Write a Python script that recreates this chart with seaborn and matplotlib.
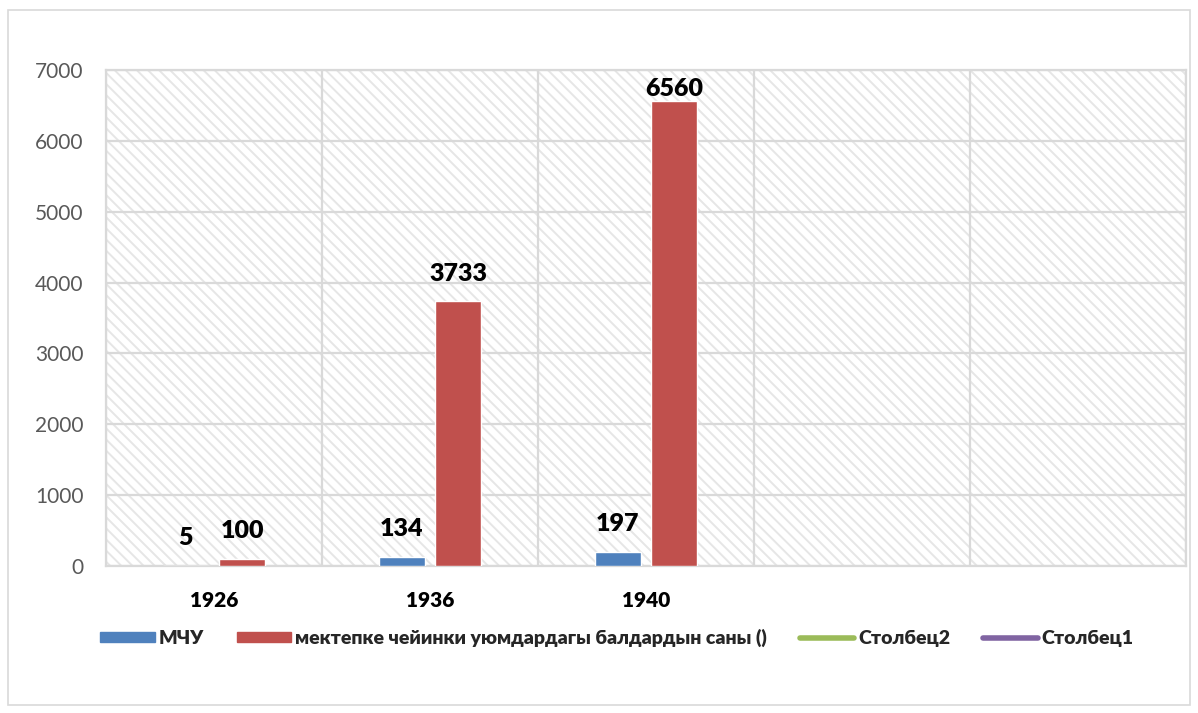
import numpy as np, pandas as pd
import seaborn as sns, matplotlib.pyplot as plt
from matplotlib.patches import Rectangle
from matplotlib.lines import Line2D
from matplotlib.patches import Patch

years = ['1926', '1936', '1940']
mchu = [5, 134, 197]
kids = [100, 3733, 6560]
s1_name = 'МЧУ'
s2_name = 'мектепке чейинки уюмдардагы балдардын саны ()'
extra_names = ['Столбец2', 'Столбец1']
n_slots = 5
yticks = list(range(0, 7001, 1000))

blue, red, green, purple = '#4F81BD', '#C0504D', '#9BBB59', '#8064A2'
grid_c = '#d9d9d9'

sns.set_style('white')
plt.rcParams['font.family'] = ['Lato', 'DejaVu Sans']
plt.rcParams['hatch.linewidth'] = 1.4

df = pd.DataFrame({'year': years * 2,
                   'value': mchu + kids,
                   'series': [s1_name] * 3 + [s2_name] * 3})

fig = plt.figure(figsize=(11.98, 7.13), dpi=100)
ax = fig.add_axes([106/1198, 1-566/713, 1080/1198, 496/713])

# hatched plot area
ax.add_patch(Rectangle((0, 0), 1, 1, transform=ax.transAxes, facecolor='white',
                       edgecolor='#e6e6e6', hatch='\\\\\\', lw=0, zorder=0))

sns.barplot(data=df, x='year', y='value', hue='series', palette=[blue, red],
            saturation=1, width=0.52, gap=0.18, errorbar=None, legend=False,
            ax=ax, zorder=3)

for i, cont in enumerate(ax.containers):
    anns = ax.bar_label(cont, padding=12, fontsize=18, fontweight='heavy', color='black')
    for a, v in zip(anns, [mchu, kids][i]):
        if v == 6560:
            a.xyann = (0, 1)

ax.set_xlim(-0.5, n_slots - 0.5)
ax.set_ylim(0, 7000)
ax.set_yticks(yticks)
ax.set_yticklabels([str(t) for t in yticks], fontsize=15, color='#595959')
ax.set_xticks(range(len(years)))
ax.set_xticklabels(years, fontsize=15, fontweight='heavy', color='black')
ax.set_xticks(np.arange(-0.5, n_slots, 1), minor=True)
ax.tick_params(axis='x', which='major', length=0, pad=18)
ax.tick_params(axis='x', which='minor', length=6, color=grid_c, width=1.5)
ax.tick_params(axis='y', length=0, pad=16)
ax.set_axisbelow(True)
ax.grid(axis='y', which='major', color=grid_c, lw=1.6)
ax.grid(axis='x', which='minor', color=grid_c, lw=1.6)
ax.set_xlabel('')
ax.set_ylabel('')
for s in ax.spines.values():
    s.set_color(grid_c)
    s.set_linewidth(1.6)

handles = [Patch(color=blue, label=s1_name), Patch(color=red, label=s2_name),
           Line2D([], [], color=green, lw=4, solid_capstyle='round', label=extra_names[0]),
           Line2D([], [], color=purple, lw=4, solid_capstyle='round', label=extra_names[1])]
leg = fig.legend(handles=handles, loc='center', bbox_to_anchor=(0.515, 1-638/713), ncol=4,
                 frameon=False, prop={'size': 14, 'weight': 'heavy'},
                 handlelength=2.8, handleheight=0.42, handletextpad=0.2, columnspacing=1.7)

fig.patches.append(Rectangle((8/1198, 1-705/713), 1182/1198, 695/713,
                             transform=fig.transFigure, fill=False,
                             edgecolor=grid_c, lw=1.2))

fig.savefig('out.png', dpi=100)
